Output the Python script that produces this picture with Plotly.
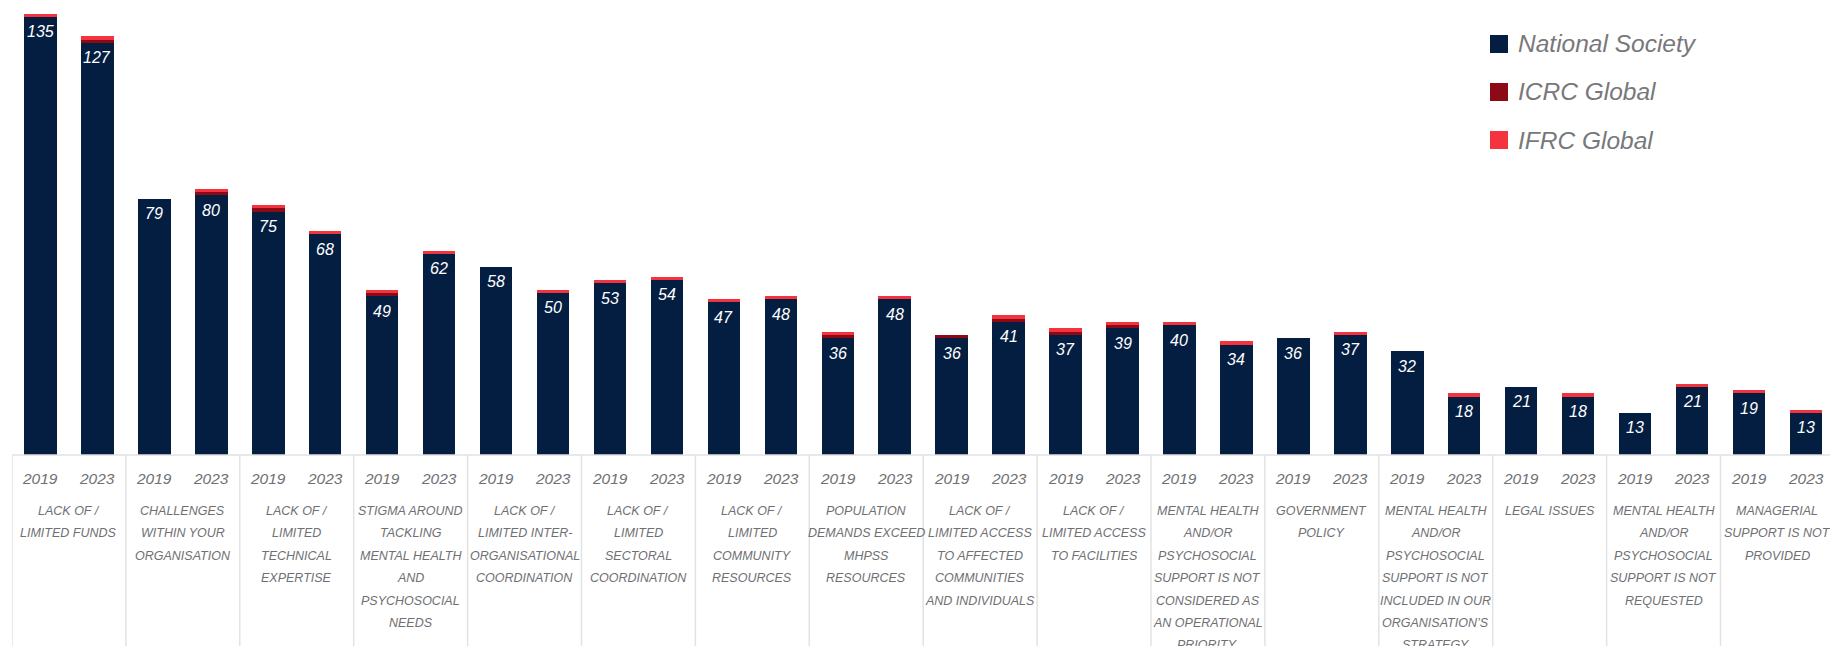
import plotly.graph_objects as go

# Barrier categories (one label line per list entry)
categories = [
    ["LACK OF /", "LIMITED FUNDS"],
    ["CHALLENGES", "WITHIN YOUR", "ORGANISATION"],
    ["LACK OF /", "LIMITED", "TECHNICAL", "EXPERTISE"],
    ["STIGMA AROUND", "TACKLING", "MENTAL HEALTH", "AND", "PSYCHOSOCIAL", "NEEDS"],
    ["LACK OF /", "LIMITED INTER-", "ORGANISATIONAL", "COORDINATION"],
    ["LACK OF /", "LIMITED", "SECTORAL", "COORDINATION"],
    ["LACK OF /", "LIMITED", "COMMUNITY", "RESOURCES"],
    ["POPULATION", "DEMANDS EXCEED", "MHPSS", "RESOURCES"],
    ["LACK OF /", "LIMITED ACCESS", "TO AFFECTED", "COMMUNITIES", "AND INDIVIDUALS"],
    ["LACK OF /", "LIMITED ACCESS", "TO FACILITIES"],
    ["MENTAL HEALTH", "AND/OR", "PSYCHOSOCIAL", "SUPPORT IS NOT", "CONSIDERED AS", "AN OPERATIONAL", "PRIORITY"],
    ["GOVERNMENT", "POLICY"],
    ["MENTAL HEALTH", "AND/OR", "PSYCHOSOCIAL", "SUPPORT IS NOT", "INCLUDED IN OUR", "ORGANISATION\u2019S", "STRATEGY"],
    ["LEGAL ISSUES"],
    ["MENTAL HEALTH", "AND/OR", "PSYCHOSOCIAL", "SUPPORT IS NOT", "REQUESTED"],
    ["MANAGERIAL", "SUPPORT IS NOT", "PROVIDED"],
]
years = ["2019", "2023"]

# Responses per bar (2019 / 2023 for each category)
national_society = [135, 127, 79, 80, 75, 68, 49, 62, 58, 50, 53, 54, 47, 48, 36, 48,
                    36, 41, 37, 39, 40, 34, 36, 37, 32, 18, 21, 18, 13, 21, 19, 13]
icrc_global = [0, 1, 0, 1, 1, 0, 1, 0, 0, 0, 0, 0, 0, 0, 1, 0,
               1, 1, 1, 1, 0, 0, 0, 0, 0, 0, 0, 0, 0, 0, 0, 0]
ifrc_global = [1, 1, 0, 1, 1, 1, 1, 1, 0, 1, 1, 1, 1, 1, 1, 1,
               0, 1, 1, 1, 1, 1, 0, 1, 0, 1, 0, 1, 0, 1, 1, 1]

NAVY = "#041E42"
DARK_RED = "#8C0A15"
RED = "#F5333F"
GREY = "#6F7073"
LINE = "#E2E2E2"
FONT = "Liberation Sans, Arial, sans-serif"

n_bars = len(national_society)
xpos = list(range(n_bars))
bar_years = [years[i % 2] for i in xpos]

W, H = 1830, 646
M_L, M_R, M_T, M_B = 12, 0, 0, 191
PLOT_W = W - M_L - M_R
PLOT_H = H - M_T - M_B

fig = go.Figure()
for name, vals, col in [("National Society", national_society, NAVY),
                        ("ICRC Global", icrc_global, DARK_RED),
                        ("IFRC Global", ifrc_global, RED)]:
    fig.add_trace(go.Bar(
        x=xpos, y=vals, name=name, marker=dict(color=col, line=dict(width=0)),
        width=0.57, showlegend=False,
        customdata=bar_years,
        hovertemplate="%{customdata}: %{y}<extra>" + name + "</extra>",
    ))

annotations = []
shapes = []

# value labels inside the navy segment
for i, v in enumerate(national_society):
    annotations.append(dict(
        x=i, y=v, xref="x", yref="y", text=str(v), showarrow=False,
        yanchor="middle", yshift=-15,
        font=dict(family=FONT, size=16, color="white", style="italic"),
    ))

# year labels under each bar
for i, yr in enumerate(bar_years):
    annotations.append(dict(
        x=i, y=0, xref="x", yref="paper", text=yr, showarrow=False,
        yanchor="middle", yshift=-23,
        font=dict(family=FONT, size=15.5, color=GREY, style="italic"),
    ))

# category labels, one line per annotation
for c, lines in enumerate(categories):
    cx = 2 * c + 0.5
    for k, line in enumerate(lines):
        annotations.append(dict(
            x=cx, y=0, xref="x", yref="paper", text=line, showarrow=False,
            yanchor="middle", yshift=-(56 + 22.4 * k),
            font=dict(family=FONT, size=12.5, color=GREY, style="italic"),
        ))

# category boxes below the baseline
bottom = -M_B / PLOT_H
shapes.append(dict(type="line", xref="paper", yref="paper", x0=0, x1=1, y0=0, y1=0,
                   line=dict(color=LINE, width=1.5), layer="above"))
for c in range(len(categories)):
    b = 2 * c - 0.5
    shapes.append(dict(type="line", xref="x", yref="paper", x0=b, x1=b, y0=0, y1=bottom,
                       line=dict(color=LINE, width=1.5)))

# legend drawn as swatches + labels
def px_x(px):
    return (px - M_L) / PLOT_W

def px_y(py):
    return (H - M_B - py) / PLOT_H

for k, (name, col) in enumerate([("National Society", NAVY),
                                 ("ICRC Global", DARK_RED),
                                 ("IFRC Global", RED)]):
    cy = 44 + 48 * k
    shapes.append(dict(type="rect", xref="paper", yref="paper",
                       x0=px_x(1490), x1=px_x(1508), y0=px_y(cy + 9), y1=px_y(cy - 9),
                       fillcolor=col, line=dict(width=0)))
    annotations.append(dict(
        x=px_x(1516), y=px_y(cy), xref="paper", yref="paper", text=name,
        showarrow=False, xanchor="left", yanchor="middle",
        font=dict(family=FONT, size=24.5, color="#77787B", style="italic"),
    ))

slot_px = 113.9 / 2
fig.update_layout(
    width=W, height=H,
    barmode="stack",
    margin=dict(l=M_L, r=M_R, t=M_T, b=M_B),
    plot_bgcolor="white", paper_bgcolor="white",
    xaxis=dict(range=[-0.5, -0.5 + PLOT_W / slot_px], showticklabels=False,
               showgrid=False, zeroline=False, showline=False, ticks=""),
    yaxis=dict(range=[0, PLOT_H / 3.245], showticklabels=False, showgrid=False,
               zeroline=False, showline=False, ticks=""),
    annotations=annotations,
    shapes=shapes,
    font=dict(family=FONT),
)

fig.write_html("out.html")
